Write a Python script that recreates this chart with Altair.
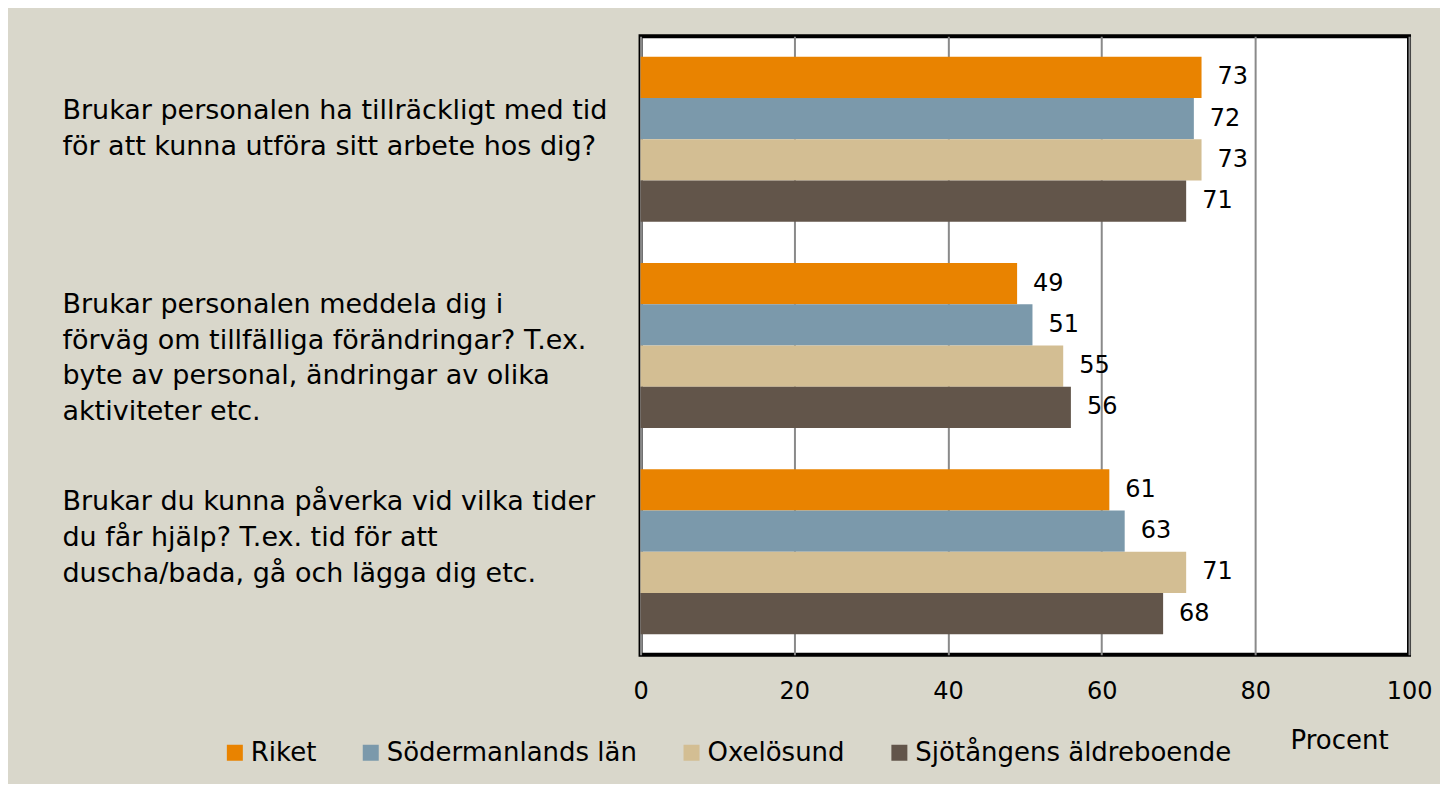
import altair as alt
import pandas as pd

questions = [
    "Brukar personalen ha tillräckligt med tid|för att kunna utföra sitt arbete hos dig?",
    "Brukar personalen meddela dig i|förväg om tillfälliga förändringar? T.ex.|byte av personal, ändringar av olika|aktiviteter etc.",
    "Brukar du kunna påverka vid vilka tider|du får hjälp? T.ex. tid för att|duscha/bada, gå och lägga dig etc.",
]
series = ["Riket", "Södermanlands län", "Oxelösund", "Sjötångens äldreboende"]
colors = ["#E98300", "#7B99AB", "#D3BE93", "#62554A"]
values = {
    "Riket": [73, 49, 61],
    "Södermanlands län": [72, 51, 63],
    "Oxelösund": [73, 55, 71],
    "Sjötångens äldreboende": [71, 56, 68],
}
# vertical shift of each multi-line category label (as placed in the original)
label_shift = [-28, -41, -50]

rows = []
for s in series:
    for q, v in zip(questions, values[s]):
        rows.append({"question": q, "series": s, "value": v})
df = pd.DataFrame(rows)

FONT = "DejaVu Sans"

offset_cond = {
    "condition": [
        {"test": f"datum.value == {q!r}", "value": sh}
        for q, sh in zip(questions, label_shift)
    ],
    "value": 0,
}

y_enc = alt.Y(
    "question:N",
    sort=questions,
    scale=alt.Scale(paddingInner=0.2, paddingOuter=0.1),
    axis=alt.Axis(
        title=None,
        labelExpr="split(datum.label, '|')",
        labelAlign="left",
        labelBaseline="middle",
        labelPadding=579,
        labelLimit=800,
        labelFontSize=27,
        labelLineHeight=36,
        labelColor="black",
        labelFont=FONT,
        labelOffset=offset_cond,
        ticks=False,
        tickSize=0,
        domain=False,
        grid=False,
    ),
)
yoff = alt.YOffset("series:N", sort=series, scale=alt.Scale(paddingInner=0, paddingOuter=0))
x_enc = alt.X(
    "value:Q",
    scale=alt.Scale(domain=[0, 100], nice=False),
    axis=alt.Axis(
        values=[0, 20, 40, 60, 80, 100],
        title="Procent",
        titleFontSize=26,
        titleFontWeight="normal",
        titleColor="black",
        titleFont=FONT,
        titleX=699,
        titleY=94,
        titleAlign="center",
        titleBaseline="alphabetic",
        labelFontSize=24,
        labelColor="black",
        labelFont=FONT,
        labelPadding=25,
        labelFlush=False,
        ticks=False,
        tickSize=0,
        domain=False,
        grid=True,
        gridColor="#8a8a8a",
        gridWidth=2,
    ),
)

bars = alt.Chart(df).mark_bar().encode(
    x=x_enc,
    y=y_enc,
    yOffset=yoff,
    color=alt.Color(
        "series:N",
        sort=series,
        scale=alt.Scale(domain=series, range=colors),
        legend=alt.Legend(
            title=None,
            orient="none",
            direction="horizontal",
            legendX=-419,
            legendY=704,
            symbolType="square",
            symbolSize=256,
            symbolStrokeWidth=0,
            labelFontSize=26,
            labelFont=FONT,
            labelColor="black",
            labelLimit=600,
            labelOffset=3,
            columnPadding=41,
            padding=0,
        ),
    ),
)

labels = alt.Chart(df).mark_text(
    align="left", baseline="middle", dx=16, fontSize=24, font=FONT, color="black"
).encode(
    x=alt.X("value:Q"),
    y=alt.Y("question:N", sort=questions),
    yOffset=alt.YOffset("series:N", sort=series),
    text=alt.Text("value:Q"),
)

chart = (
    alt.layer(bars, labels)
    .properties(
        width=769,
        height=619,
        background="#D9D7CB",
        padding={"left": 54, "top": 28, "right": 8, "bottom": 18},
    )
    .configure_view(fill="white", stroke="black", strokeWidth=4)
)

chart.save("out.html", embed_options={"renderer": "svg", "actions": False})
